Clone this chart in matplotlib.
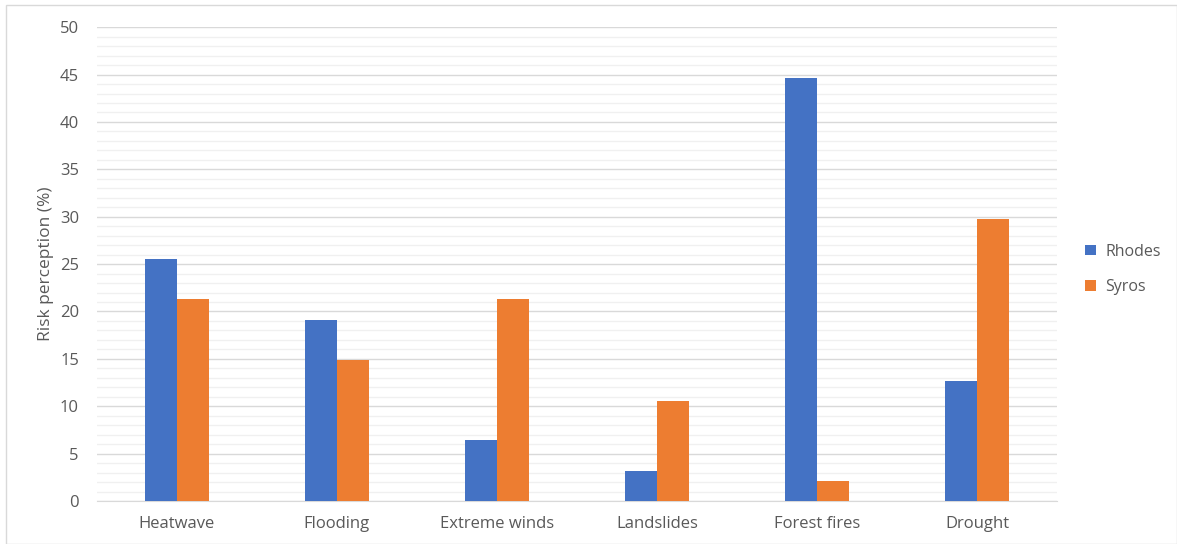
import matplotlib
matplotlib.use("Agg")
import matplotlib.pyplot as plt
import numpy as np
from matplotlib.patches import Rectangle
from matplotlib.ticker import MultipleLocator

categories = ["Heatwave", "Flooding", "Extreme winds", "Landslides", "Forest fires", "Drought"]
rhodes = [25.5, 19.1, 6.4, 3.2, 44.6, 12.7]
syros = [21.3, 14.9, 21.3, 10.6, 2.1, 29.8]
series_names = ["Rhodes", "Syros"]

plt.rcParams['font.family'] = ['Open Sans', 'DejaVu Sans']
text_col = "#595959"

fig = plt.figure(figsize=(11.77, 5.44), dpi=100)
ax = fig.add_axes([0.0824, 0.079, 0.8156, 0.871])

x = np.arange(len(categories))
w = 0.2
ax.bar(x - w / 2, rhodes, w, color="#4472C4", label=series_names[0], zorder=3)
ax.bar(x + w / 2, syros, w, color="#ED7D31", label=series_names[1], zorder=3)

ax.set_xlim(-0.5, len(categories) - 0.5)
ax.set_ylim(0, 50)
ax.yaxis.set_major_locator(MultipleLocator(5))
ax.yaxis.set_minor_locator(MultipleLocator(1))
ax.grid(which="major", axis="y", color="#D9D9D9", linewidth=1.0, zorder=0)
ax.grid(which="minor", axis="y", color="#F0F0F0", linewidth=1.0, zorder=0)

ax.set_xticks(x)
ax.set_xticklabels(categories)
ax.tick_params(axis="both", which="both", length=0, colors=text_col, labelsize=12)
ax.tick_params(axis="x", pad=11)
ax.tick_params(axis="y", pad=13)
for s in ["top", "right", "left"]:
    ax.spines[s].set_visible(False)
ax.spines["bottom"].set_color("#D9D9D9")

ax.set_ylabel("Risk perception (%)", color=text_col, fontsize=12.5, labelpad=4)

fig.legend(loc="center left", bbox_to_anchor=(0.91, 0.505), frameon=False,
           fontsize=11.5, handlelength=0.65, handleheight=0.65, handletextpad=0.6,
           labelspacing=1.2, labelcolor=text_col)

fig.patches.append(Rectangle((0.005, 0.0), 0.995, 0.99, transform=fig.transFigure,
                             fill=False, edgecolor="#D9D9D9", linewidth=1.0))

fig.savefig("out.png", dpi=100)
